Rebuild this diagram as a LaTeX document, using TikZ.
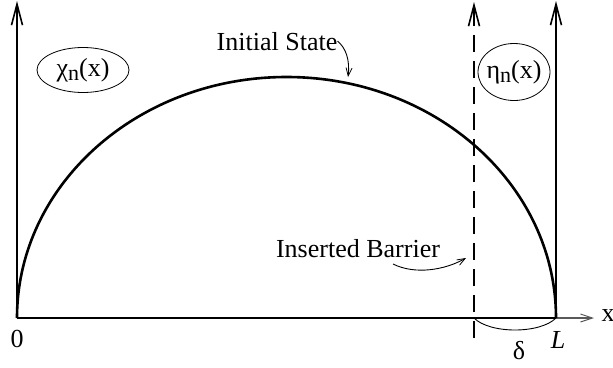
\documentclass[tikz,border=0pt]{standalone}
\usepackage{fontspec}
\setmainfont{Liberation Serif}
\usetikzlibrary{arrows.meta,shapes.geometric}
\begin{document}
\begin{tikzpicture}[x=1pt,y=-1pt,
  thickline/.style={line width=2.6pt},
  axisarrow/.style={-{Straight Barb[length=21pt,width=11pt,line width=1.6pt]}},
  smallarrow/.style={-{Straight Barb[length=8pt,width=6pt,line width=0.8pt]}},
  thinline/.style={line width=0.9pt},
  lbl/.style={font=\fontsize{26}{29}\selectfont, inner sep=0pt},
  oval/.style={draw, ellipse, line width=0.8pt, inner sep=0pt},
  ]
\useasboundingbox (0,0) rectangle (613,367);
\newcommand{\subn}{\raisebox{-0.17em}{\fontsize{22}{22}\selectfont n}}
% coordinates
\coordinate (O) at (17,318);
\coordinate (Lp) at (556,318);
\coordinate (B) at (474,318);
\coordinate (Bbot) at (474,338);
\coordinate (Btop) at (474,2);
\coordinate (Otop) at (17,1);
\coordinate (Ltop) at (556,1);
\coordinate (xend) at (594,318);
\coordinate (isend) at (348,77);
\coordinate (ibstart) at (393,264);
\coordinate (ibend) at (466,258);
% axes
\draw[thickline, axisarrow] (O) -- (Otop);
\draw[thickline, axisarrow] (Lp) -- (Ltop);
\draw[thickline] (O) -- (Lp);
\draw[line width=1.2pt, black!65, -{Straight Barb[length=12pt,width=8pt,line width=1pt]}] (Lp) -- (xend);
% dashed barrier
\draw[thickline, dash pattern=on 17pt off 9pt] (Bbot) -- (474,22);
\draw[line width=2.6pt, axisarrow] (474,24) -- (Btop);
% initial state curve
\draw[thickline] (O) arc[start angle=180, end angle=360, x radius=269.5, y radius=241];
% delta arc
\draw[thinline] (B) .. controls (490,334) and (540,334) .. (Lp);
% labels
\node[lbl] (zero) at (17,339) {0};
\node[lbl] (Llbl) at (558,340) {\itshape L};
\node[lbl] (delta) at (519,351) {δ};
\node[lbl] (xlbl) at (608,316) {x};
\node[lbl, anchor=base] (is) at (277,50) {Initial State};
\node[lbl, anchor=base] (ib) at (358,257) {Inserted Barrier};
\node[oval, minimum width=92pt, minimum height=45pt] (chi) at (83,70) {\fontsize{26}{29}\selectfont χ\subn(x)};
\node[oval, inner xsep=-9pt, minimum width=72pt, minimum height=57pt] (eta) at (514,72) {\fontsize{26}{29}\selectfont η\subn(x)};
% pointer arrows
\draw[thinline, smallarrow] (is.east) .. controls (346,48) and (350,60) .. (isend);
\draw[thinline, smallarrow] (ibstart) .. controls (415,275) and (445,270) .. (ibend);
\end{tikzpicture}
\end{document}
